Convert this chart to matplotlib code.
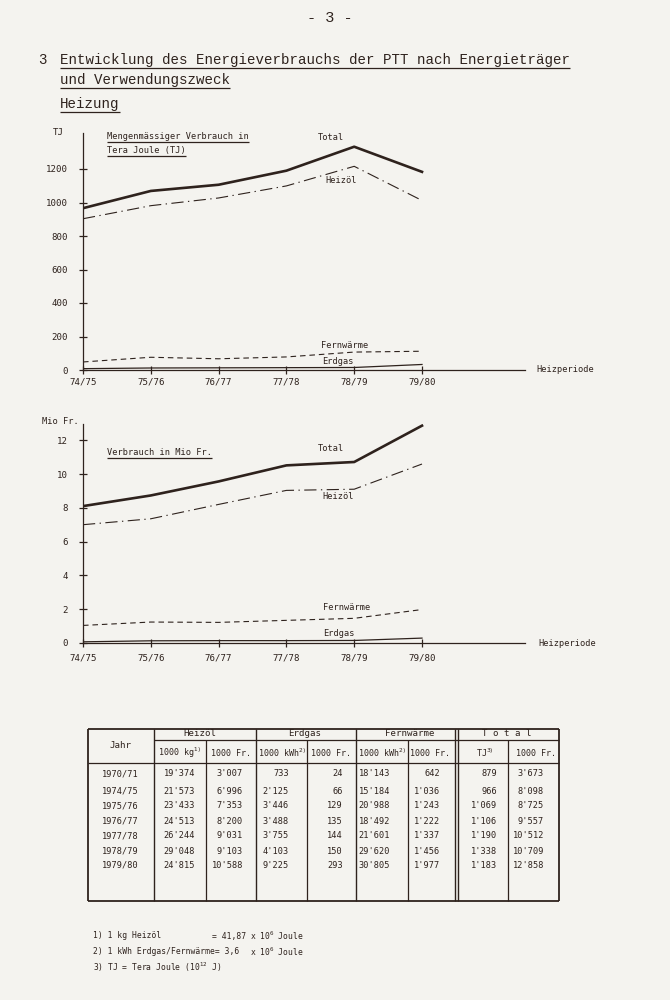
import matplotlib
matplotlib.use("Agg")
import matplotlib.pyplot as plt

# Heizperioden (x-Achse beider Diagramme)
perioden = ["74/75", "75/76", "76/77", "77/78", "78/79", "79/80"]

# Verbrauch in TJ (oberes Diagramm)
total_tj = [966, 1069, 1106, 1190, 1333, 1183]
heizoel_tj = [903, 981, 1027, 1099, 1216, 1012]
fernwaerme_tj = [48, 76, 67, 78, 107, 112]
erdgas_tj = [8, 12, 13, 14, 15, 33]

# Verbrauch in Mio Fr. (unteres Diagramm)
total_mio = [8.10, 8.73, 9.56, 10.51, 10.71, 12.86]
heizoel_mio = [7.00, 7.35, 8.20, 9.03, 9.10, 10.59]
fernwaerme_mio = [1.04, 1.24, 1.22, 1.34, 1.46, 1.98]
erdgas_mio = [0.07, 0.13, 0.14, 0.14, 0.15, 0.29]

# Tabelle
jahre = ["1970/71", "1974/75", "1975/76", "1976/77", "1977/78", "1978/79", "1979/80"]
tab_heizoel_kg = ["19'374", "21'573", "23'433", "24'513", "26'244", "29'048", "24'815"]
tab_heizoel_fr = ["3'007", "6'996", "7'353", "8'200", "9'031", "9'103", "10'588"]
tab_erdgas_kwh = ["733", "2'125", "3'446", "3'488", "3'755", "4'103", "9'225"]
tab_erdgas_fr = ["24", "66", "129", "135", "144", "150", "293"]
tab_fernw_kwh = ["18'143", "15'184", "20'988", "18'492", "21'601", "29'620", "30'805"]
tab_fernw_fr = ["642", "1'036", "1'243", "1'222", "1'337", "1'456", "1'977"]
tab_total_tj = ["879", "966", "1'069", "1'106", "1'190", "1'338", "1'183"]
tab_total_fr = ["3'673", "8'098", "8'725", "9'557", "10'512", "10'709", "12'858"]

PAPER = "#f4f3ef"
INK = "#2e221d"
TYPE = "Liberation Mono"
PLOT = "DejaVu Sans Mono"
TAB_FS = 6.2

W, H = 670, 1000
fig = plt.figure(figsize=(6.7, 10), dpi=100, facecolor=PAPER)

# Seite in Pixelkoordinaten
page = fig.add_axes([0, 0, 1, 1])
page.set_xlim(0, W)
page.set_ylim(H, 0)
page.axis("off")
page.set_facecolor(PAPER)


def ptext(x, y, s, **kw):
    kw.setdefault("color", INK)
    kw.setdefault("va", "center")
    return page.text(x, y, s, **kw)


def hline(x0, x1, y, lw=0.9):
    page.plot([x0, x1], [y, y], color=INK, lw=lw, solid_capstyle="butt")


def vline(x, y0, y1, lw=0.9):
    page.plot([x, x], [y0, y1], color=INK, lw=lw, solid_capstyle="butt")


# Kopf
ptext(330, 18, "- 3 -", family=TYPE, fontsize=11, ha="center")
ptext(38, 60, "3", family=TYPE, fontsize=10.2, ha="left")
titel = [
    ptext(60, 60, "Entwicklung des Energieverbrauchs der PTT nach Energieträger",
          family=TYPE, fontsize=10.2, ha="left"),
    ptext(60, 80, "und Verwendungszweck", family=TYPE, fontsize=10.2, ha="left"),
    ptext(60, 104, "Heizung", family=TYPE, fontsize=10.2, ha="left"),
]

PX = 67.8  # Pixel pro Heizperiode


def chart(y0_px, top_px, y_px_per_unit, xpad):
    ax = fig.add_axes([83 / W, (H - y0_px) / H, (525 - 83) / W, (y0_px - top_px) / H])
    ax.set_facecolor("none")
    ax.set_xlim(0, (525 - 83) / PX)
    ax.set_ylim(0, (y0_px - top_px) / y_px_per_unit)
    for s in ["top", "right"]:
        ax.spines[s].set_visible(False)
    for s in ["left", "bottom"]:
        ax.spines[s].set_color(INK)
        ax.spines[s].set_linewidth(0.9)
    ax.set_xticks(range(len(perioden)))
    ax.set_xticklabels(perioden, family=PLOT, fontsize=6.6, color=INK)
    ax.tick_params(axis="both", direction="inout", length=6, width=0.9, color=INK)
    ax.tick_params(axis="x", pad=xpad)
    ax.tick_params(axis="y", pad=8, labelsize=6.6, labelcolor=INK)
    return ax


def serien(ax, total, heizoel, fernw, erdgas):
    x = range(len(perioden))
    ax.plot(x, total, color=INK, lw=1.9, solid_joinstyle="round")
    ax.plot(x, heizoel, color=INK, lw=0.8, linestyle=(0, (11, 4, 1.2, 4)))
    ax.plot(x, fernw, color=INK, lw=0.8, linestyle=(0, (5, 3.5)))
    ax.plot(x, erdgas, color=INK, lw=0.9)


def atext(ax, x, y, s, **kw):
    kw.setdefault("ha", "left")
    kw.setdefault("va", "center")
    kw.setdefault("fontsize", 6.2)
    return ax.text(x, y, s, family=PLOT, color=INK, clip_on=False, **kw)


# Oberes Diagramm: TJ
ax1 = chart(370, 133, 33.5 / 200, 2.5)
ax1.set_yticks(range(0, 1201, 200))
ax1.set_yticklabels([str(v) for v in range(0, 1201, 200)], family=PLOT)
serien(ax1, total_tj, heizoel_tj, fernwaerme_tj, erdgas_tj)
atext(ax1, -0.37, 1415, "TJ", ha="center", fontsize=6.6)
u1 = [atext(ax1, 0.354, 1397, "Mengenmässiger Verbrauch in"),
      atext(ax1, 0.354, 1313, "Tera Joule (TJ)")]
atext(ax1, 3.47, 1391, "Total")
atext(ax1, 3.58, 1134, "Heizöl")
atext(ax1, 3.51, 149, "Fernwärme")
atext(ax1, 3.52, 48, "Erdgas")
atext(ax1, 6.68, 0, "Heizperiode")

# Unteres Diagramm: Mio Fr.
ax2 = chart(643, 424, 16.9, 4.5)
ax2.set_yticks(range(0, 13, 2))
ax2.set_yticklabels([str(v) for v in range(0, 13, 2)], family=PLOT)
serien(ax2, total_mio, heizoel_mio, fernwaerme_mio, erdgas_mio)
atext(ax2, -0.34, 13.08, "Mio Fr.", ha="center")
u2 = [atext(ax2, 0.354, 11.3, "Verbrauch in Mio Fr.")]
atext(ax2, 3.47, 11.48, "Total")
atext(ax2, 3.53, 8.64, "Heizöl")
atext(ax2, 3.54, 2.13, "Fernwärme")
atext(ax2, 3.54, 0.59, "Erdgas")
atext(ax2, 6.72, 0, "Heizperiode")

# Tabelle
L, R, T, B = 88, 559, 729, 901
hline(L, R, T, 1.3)
hline(L, R, B, 1.3)
vline(L, T, B, 1.3)
vline(R, T, B, 1.3)
hline(154, R, 740)
hline(L, R, 763)
for x in [154, 256, 356, 455]:
    vline(x, T, B, 1.0)
vline(458, T, B, 1.0)
for x in [206, 307, 408, 508]:
    vline(x, 740, B)

ptext(120, 746, "Jahr", family=PLOT, fontsize=6.6, ha="center")
for xc, s in [(200, "Heizöl"), (305, "Erdgas"), (410, "Fernwärme"), (507, "T o t a l")]:
    ptext(xc, 734, s, family=PLOT, fontsize=6.6, ha="center")
sub = [(179, "1000 kg$^{1)}$"), (231, "1000 Fr."), (282, "1000 kWh$^{2)}$"), (331, "1000 Fr."),
       (382, "1000 kWh$^{2)}$"), (430, "1000 Fr."), (485, "TJ$^{3)}$"), (536, "1000 Fr.")]
for xc, s in sub:
    ptext(xc, 753, s, family=PLOT, fontsize=6.0, ha="center")

zeilen_y = [774, 791, 806, 821, 836, 851, 865]
spalten = [(195, tab_heizoel_kg), (243, tab_heizoel_fr), (289, tab_erdgas_kwh),
           (343, tab_erdgas_fr), (390, tab_fernw_kwh), (440, tab_fernw_fr),
           (497, tab_total_tj), (544, tab_total_fr)]
for i, y in enumerate(zeilen_y):
    ptext(120, y, jahre[i], family=PLOT, fontsize=TAB_FS, ha="center")
    for xr, werte in spalten:
        ptext(xr, y, werte[i], family=PLOT, fontsize=TAB_FS, ha="right")

# Fussnoten
FN = 5.8
ptext(93, 936, "1) 1 kg Heizöl", family=PLOT, fontsize=FN, ha="left")
ptext(212, 936, "= 41,87", family=PLOT, fontsize=FN, ha="left")
ptext(250, 936, "x 10$^6$ Joule", family=PLOT, fontsize=FN, ha="left")
ptext(93, 952, "2) 1 kWh Erdgas/Fernwärme= 3,6", family=PLOT, fontsize=FN, ha="left")
ptext(250, 952, "x 10$^6$ Joule", family=PLOT, fontsize=FN, ha="left")
ptext(93, 967, "3) TJ = Tera Joule (10$^{12}$ J)", family=PLOT, fontsize=FN, ha="left")

# Unterstreichungen
fig.canvas.draw()
for t in titel + u1 + u2:
    bb = t.get_window_extent()
    hline(bb.x0, bb.x1, H - bb.y0 + 1, lw=0.9)

fig.savefig("out.png", dpi=100, facecolor=PAPER)
